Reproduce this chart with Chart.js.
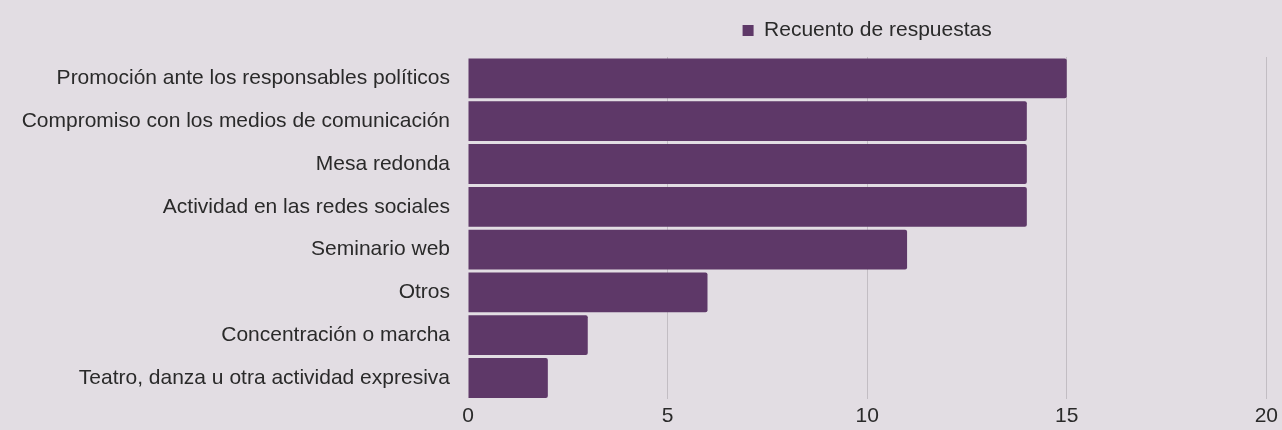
<!DOCTYPE html>
<html>
<head>
<meta charset="utf-8">
<script src="https://cdn.jsdelivr.net/npm/chart.js@4"></script>
<style>
  html, body { margin: 0; padding: 0; background: #e2dde3; }
  #wrap { width: 1282px; height: 430px; position: relative; }
</style>
</head>
<body>
<div id="wrap"><canvas id="c" width="1282" height="430"></canvas></div>
<script>
// Categories and response counts
const categories = [
  'Promoción ante los responsables políticos',
  'Compromiso con los medios de comunicación',
  'Mesa redonda',
  'Actividad en las redes sociales',
  'Seminario web',
  'Otros',
  'Concentración o marcha',
  'Teatro, danza u otra actividad expresiva'
];
const responseCounts = [15, 14, 14, 14, 11, 6, 3, 2];
const seriesLabel = 'Recuento de respuestas';
const axisMax = 20;
const axisStep = 5;

const FONT = '"Liberation Sans", Arial, sans-serif';
const FONT_SIZE = 21;
const TEXT = '#2a2a2a';

// Center the legend over the plotting area and give it a fixed band height
const legendOverArea = {
  id: 'legendOverArea',
  beforeLayout(chart) {
    const lg = chart.legend;
    if (lg && !lg._fixedBand) {
      const fit = lg.fit.bind(lg);
      lg.fit = function () { fit(); this.height = 57; };
      lg._fixedBand = true;
    }
  },
  afterLayout(chart) {
    const lg = chart.legend, a = chart.chartArea;
    if (lg && a) { lg.left = a.left; lg.right = a.right; lg.width = a.right - a.left; }
  }
};

new Chart(document.getElementById('c'), {
  type: 'bar',
  data: {
    labels: categories,
    datasets: [{
      label: seriesLabel,
      data: responseCounts,
      backgroundColor: '#5e3868',
      borderWidth: 0,
      borderRadius: 2,
      borderSkipped: 'start',
      barPercentage: 0.93,
      categoryPercentage: 1
    }]
  },
  options: {
    indexAxis: 'y',
    responsive: false,
    animation: false,
    layout: { padding: { left: 0, right: 9, top: 0, bottom: 0 } },
    plugins: {
      legend: {
        position: 'top',
        align: 'center',
        labels: {
          font: { family: FONT, size: FONT_SIZE },
          color: TEXT,
          boxWidth: 11,
          boxHeight: 11,
          padding: 20
        }
      },
      tooltip: { enabled: false }
    },
    scales: {
      x: {
        min: 0,
        max: axisMax,
        ticks: { stepSize: axisStep, font: { family: FONT, size: FONT_SIZE }, color: TEXT, padding: 4 },
        grid: {
          drawTicks: false,
          color: (ctx) => ctx.tick && ctx.tick.value === 0 ? 'rgba(0,0,0,0)' : '#c2bdc3',
          lineWidth: 1
        },
        border: { display: false },
        afterFit(scale) { scale.height = 28; }
      },
      y: {
        ticks: { font: { family: FONT, size: FONT_SIZE }, color: TEXT, padding: 18 },
        grid: { display: false, drawTicks: false },
        border: { display: false },
        afterFit(scale) { scale.width = 468; }
      }
    }
  },
  plugins: [legendOverArea]
});
</script>
</body>
</html>
